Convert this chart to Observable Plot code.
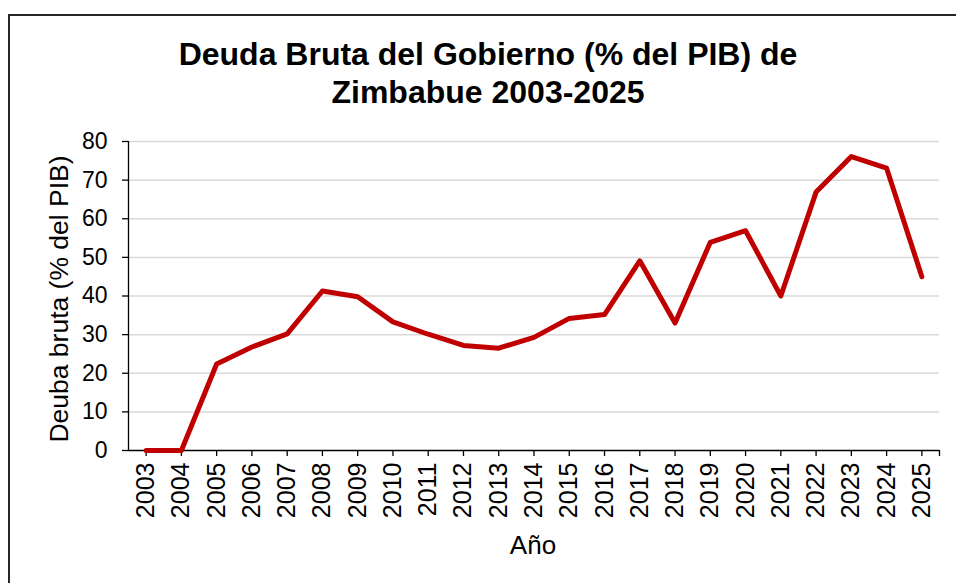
<!DOCTYPE html>
<html>
<head>
<meta charset="utf-8">
<script src="https://cdn.jsdelivr.net/npm/d3@7"></script>
<script src="https://cdn.jsdelivr.net/npm/@observablehq/plot@0.6"></script>
<style>
  html, body { margin: 0; padding: 0; background: #fff; }
  body { width: 956px; height: 583px; position: relative; overflow: hidden; font-family: "Liberation Sans", Arial, sans-serif; }
  #frame { position: absolute; left: 8px; top: 14px; width: 1000px; height: 700px; border: 2px solid #262626; box-sizing: border-box; }
  #title { position: absolute; left: 0; width: 976px; top: 35px; text-align: center; font-weight: bold; font-size: 32px; line-height: 38px; color: #000; }
  #chart { position: absolute; left: 0; top: 0; }
  .lab { position: absolute; color: #000; white-space: nowrap; }
  #ylab { left: 59px; top: 299px; font-size: 26.5px; transform: translate(-50%, -50%) rotate(-90deg); }
  #xlab { left: 533px; top: 545px; font-size: 26px; transform: translate(-50%, -50%); }
</style>
</head>
<body>
<div id="frame"></div>
<div id="title">Deuda Bruta del Gobierno (% del PIB) de<br>Zimbabue 2003-2025</div>
<div id="chart"></div>
<div class="lab" id="ylab">Deuba bruta (% del PIB)</div>
<div class="lab" id="xlab">Año</div>
<script>
const years = [2003,2004,2005,2006,2007,2008,2009,2010,2011,2012,2013,2014,2015,2016,2017,2018,2019,2020,2021,2022,2023,2024,2025];
const debt  = [0,0,22.4,26.8,30.2,41.3,39.8,33.3,30.1,27.2,26.5,29.3,34.2,35.2,49.1,33.0,53.9,56.9,40.0,66.9,76.1,73.1,45.0];
const yTicks = [0,10,20,30,40,50,60,70,80];

const data = years.map((y, i) => ({year: y, value: debt[i]}));

const chart = Plot.plot({
  width: 956,
  height: 583,
  marginLeft: 128,
  marginRight: 17,
  marginTop: 141,
  marginBottom: 133,
  style: { fontFamily: "'Liberation Sans', Arial, sans-serif", background: "transparent", overflow: "visible" },
  x: { type: "linear", domain: [2002.5, 2025.5] },
  y: { domain: [0, 80] },
  marks: [
    Plot.ruleY(yTicks.filter(d => d > 0), { stroke: "#d9d9d9", strokeWidth: 1.5 }),
    Plot.axisY({ ticks: yTicks, tickSize: 6, tickPadding: 15, fontSize: 23, label: null, stroke: "#000", color: "#000", strokeWidth: 1.3 }),
    Plot.axisX({ ticks: [...years, 2025.5], tickFormat: d => Number.isInteger(d) ? String(d) : "", tickRotate: -90, tickSize: 6, tickPadding: 6, fontSize: 25, label: null, stroke: "#000", color: "#000", strokeWidth: 1.3 }),
    Plot.ruleX([2002.5], { stroke: "#000", strokeWidth: 1.3 }),
    Plot.ruleY([0], { stroke: "#000", strokeWidth: 1.3 }),
    Plot.line(data, { x: "year", y: "value", stroke: "#C00000", strokeWidth: 5, strokeLinejoin: "round", strokeLinecap: "round" })
  ]
});
document.getElementById("chart").appendChild(chart);
</script>
</body>
</html>
